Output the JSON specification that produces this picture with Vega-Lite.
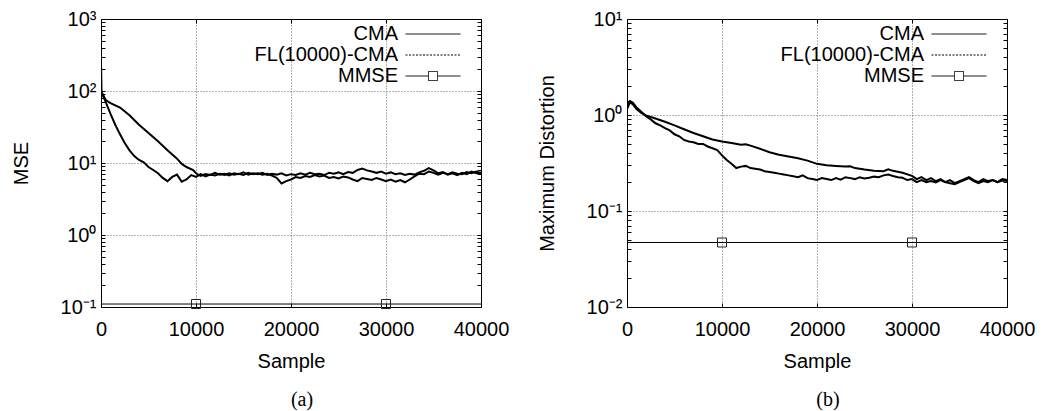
{
  "$schema": "https://vega.github.io/schema/vega-lite/v6.json",
  "background": "white",
  "padding": {"left": 10, "top": 8, "right": 5, "bottom": 5},
  "spacing": 26,
  "config": {
    "view": {"stroke": "black", "strokeWidth": 1},
    "font": "Liberation Sans",
    "axis": {
      "labelFont": "Liberation Sans", "labelFontSize": 20, "labelColor": "black",
      "titleFont": "Liberation Sans", "titleFontSize": 20, "titleFontWeight": "normal", "titleColor": "black",
      "domain": false, "tickColor": "black", "tickSize": -4, "tickWidth": 1,
      "labelFlush": false, "labelOverlap": false,
      "gridColor": "#666", "gridDash": [1, 2], "gridWidth": 1
    },
    "legend": {
      "title": null, "orient": "none", "legendX": 322, "legendY": 5,
      "symbolSize": 100, "symbolStrokeWidth": 1, "symbolStrokeColor": "black",
      "labelFont": "Liberation Sans", "labelFontSize": 20, "labelColor": "black",
      "labelAlign": "right", "labelOffset": -45, "rowPadding": 1, "labelLimit": 400
    },
    "title": {"font": "Liberation Serif", "fontSize": 20, "fontWeight": "normal", "orient": "bottom", "color": "black", "anchor": "middle", "dx": 11, "offset": 19}
  },
  "datasets": {
    "a": [
      {"s": "CMA", "x": 0, "y": 100}, {"s": "CMA", "x": 500, "y": 75}, {"s": "CMA", "x": 1000, "y": 68}, {"s": "CMA", "x": 2000, "y": 59}, {"s": "CMA", "x": 3000, "y": 46}, {"s": "CMA", "x": 4000, "y": 34}, {"s": "CMA", "x": 5000, "y": 26}, {"s": "CMA", "x": 6000, "y": 20}, {"s": "CMA", "x": 7000, "y": 15}, {"s": "CMA", "x": 8000, "y": 11.5}, {"s": "CMA", "x": 8500, "y": 9.7}, {"s": "CMA", "x": 9000, "y": 8.8}, {"s": "CMA", "x": 9700, "y": 8.0},
      {"s": "CMA", "x": 10000, "y": 7.2}, {"s": "CMA", "x": 10500, "y": 6.6}, {"s": "CMA", "x": 11000, "y": 7.0}, {"s": "CMA", "x": 11500, "y": 6.8}, {"s": "CMA", "x": 12000, "y": 7.3}, {"s": "CMA", "x": 12500, "y": 6.9}, {"s": "CMA", "x": 13000, "y": 7.1}, {"s": "CMA", "x": 13500, "y": 6.7}, {"s": "CMA", "x": 14000, "y": 7.2}, {"s": "CMA", "x": 14500, "y": 7.0}, {"s": "CMA", "x": 15000, "y": 7.4}, {"s": "CMA", "x": 15500, "y": 6.9}, {"s": "CMA", "x": 16000, "y": 7.2}, {"s": "CMA", "x": 16500, "y": 7.0}, {"s": "CMA", "x": 17000, "y": 7.3}, {"s": "CMA", "x": 17500, "y": 6.8}, {"s": "CMA", "x": 18000, "y": 7.1}, {"s": "CMA", "x": 18500, "y": 6.9}, {"s": "CMA", "x": 19000, "y": 7.2}, {"s": "CMA", "x": 19500, "y": 6.7}, {"s": "CMA", "x": 20000, "y": 7.0}, {"s": "CMA", "x": 20500, "y": 6.8}, {"s": "CMA", "x": 21000, "y": 7.2}, {"s": "CMA", "x": 21500, "y": 6.9}, {"s": "CMA", "x": 22000, "y": 7.3}, {"s": "CMA", "x": 22500, "y": 7.0}, {"s": "CMA", "x": 23000, "y": 7.1}, {"s": "CMA", "x": 23500, "y": 6.8}, {"s": "CMA", "x": 24000, "y": 7.3}, {"s": "CMA", "x": 24500, "y": 7.1}, {"s": "CMA", "x": 25000, "y": 7.4}, {"s": "CMA", "x": 25500, "y": 7.0}, {"s": "CMA", "x": 26000, "y": 7.5}, {"s": "CMA", "x": 26500, "y": 7.3}, {"s": "CMA", "x": 27000, "y": 8.0}, {"s": "CMA", "x": 27500, "y": 8.4}, {"s": "CMA", "x": 28000, "y": 7.9}, {"s": "CMA", "x": 28500, "y": 7.6}, {"s": "CMA", "x": 29000, "y": 7.3}, {"s": "CMA", "x": 29500, "y": 7.6}, {"s": "CMA", "x": 30000, "y": 7.1}, {"s": "CMA", "x": 30500, "y": 7.4}, {"s": "CMA", "x": 31000, "y": 7.0}, {"s": "CMA", "x": 31500, "y": 7.2}, {"s": "CMA", "x": 32000, "y": 6.8}, {"s": "CMA", "x": 32500, "y": 7.1}, {"s": "CMA", "x": 33000, "y": 6.9}, {"s": "CMA", "x": 33500, "y": 7.4}, {"s": "CMA", "x": 34000, "y": 7.8}, {"s": "CMA", "x": 34500, "y": 8.5}, {"s": "CMA", "x": 35000, "y": 7.9}, {"s": "CMA", "x": 35500, "y": 7.2}, {"s": "CMA", "x": 36000, "y": 7.5}, {"s": "CMA", "x": 36500, "y": 6.9}, {"s": "CMA", "x": 37000, "y": 7.2}, {"s": "CMA", "x": 37500, "y": 6.8}, {"s": "CMA", "x": 38000, "y": 7.3}, {"s": "CMA", "x": 38500, "y": 7.0}, {"s": "CMA", "x": 39000, "y": 7.6}, {"s": "CMA", "x": 39500, "y": 7.2}, {"s": "CMA", "x": 40000, "y": 7.4},
      {"s": "FL(10000)-CMA", "x": 0, "y": 250}, {"s": "FL(10000)-CMA", "x": 60, "y": 95}, {"s": "FL(10000)-CMA", "x": 500, "y": 70}, {"s": "FL(10000)-CMA", "x": 1000, "y": 48}, {"s": "FL(10000)-CMA", "x": 1500, "y": 34}, {"s": "FL(10000)-CMA", "x": 2000, "y": 25}, {"s": "FL(10000)-CMA", "x": 2500, "y": 19}, {"s": "FL(10000)-CMA", "x": 3000, "y": 15}, {"s": "FL(10000)-CMA", "x": 3500, "y": 12.5}, {"s": "FL(10000)-CMA", "x": 4000, "y": 11}, {"s": "FL(10000)-CMA", "x": 4500, "y": 10.2}, {"s": "FL(10000)-CMA", "x": 5000, "y": 8.8}, {"s": "FL(10000)-CMA", "x": 5500, "y": 8.0}, {"s": "FL(10000)-CMA", "x": 6000, "y": 7.2}, {"s": "FL(10000)-CMA", "x": 6500, "y": 6.2}, {"s": "FL(10000)-CMA", "x": 7000, "y": 5.6}, {"s": "FL(10000)-CMA", "x": 7500, "y": 6.4}, {"s": "FL(10000)-CMA", "x": 8000, "y": 6.9}, {"s": "FL(10000)-CMA", "x": 8500, "y": 5.5}, {"s": "FL(10000)-CMA", "x": 9000, "y": 5.9}, {"s": "FL(10000)-CMA", "x": 9500, "y": 6.8}, {"s": "FL(10000)-CMA", "x": 10000, "y": 6.4}, {"s": "FL(10000)-CMA", "x": 10500, "y": 7.0}, {"s": "FL(10000)-CMA", "x": 11000, "y": 6.5}, {"s": "FL(10000)-CMA", "x": 11500, "y": 6.9}, {"s": "FL(10000)-CMA", "x": 12000, "y": 6.7}, {"s": "FL(10000)-CMA", "x": 12500, "y": 7.1}, {"s": "FL(10000)-CMA", "x": 13000, "y": 6.8}, {"s": "FL(10000)-CMA", "x": 13500, "y": 7.2}, {"s": "FL(10000)-CMA", "x": 14000, "y": 6.9}, {"s": "FL(10000)-CMA", "x": 14500, "y": 7.1}, {"s": "FL(10000)-CMA", "x": 15000, "y": 6.8}, {"s": "FL(10000)-CMA", "x": 15500, "y": 7.3}, {"s": "FL(10000)-CMA", "x": 16000, "y": 7.0}, {"s": "FL(10000)-CMA", "x": 16500, "y": 7.2}, {"s": "FL(10000)-CMA", "x": 17000, "y": 6.9}, {"s": "FL(10000)-CMA", "x": 17500, "y": 7.1}, {"s": "FL(10000)-CMA", "x": 18000, "y": 6.7}, {"s": "FL(10000)-CMA", "x": 18500, "y": 6.2}, {"s": "FL(10000)-CMA", "x": 19000, "y": 5.2}, {"s": "FL(10000)-CMA", "x": 19500, "y": 5.6}, {"s": "FL(10000)-CMA", "x": 20000, "y": 5.9}, {"s": "FL(10000)-CMA", "x": 20500, "y": 6.4}, {"s": "FL(10000)-CMA", "x": 21000, "y": 6.2}, {"s": "FL(10000)-CMA", "x": 21500, "y": 6.6}, {"s": "FL(10000)-CMA", "x": 22000, "y": 6.4}, {"s": "FL(10000)-CMA", "x": 22500, "y": 6.8}, {"s": "FL(10000)-CMA", "x": 23000, "y": 6.5}, {"s": "FL(10000)-CMA", "x": 23500, "y": 6.7}, {"s": "FL(10000)-CMA", "x": 24000, "y": 6.2}, {"s": "FL(10000)-CMA", "x": 24500, "y": 6.4}, {"s": "FL(10000)-CMA", "x": 25000, "y": 6.1}, {"s": "FL(10000)-CMA", "x": 25500, "y": 6.5}, {"s": "FL(10000)-CMA", "x": 26000, "y": 6.3}, {"s": "FL(10000)-CMA", "x": 26500, "y": 5.9}, {"s": "FL(10000)-CMA", "x": 27000, "y": 5.6}, {"s": "FL(10000)-CMA", "x": 27500, "y": 6.2}, {"s": "FL(10000)-CMA", "x": 28000, "y": 6.0}, {"s": "FL(10000)-CMA", "x": 28500, "y": 5.8}, {"s": "FL(10000)-CMA", "x": 29000, "y": 6.2}, {"s": "FL(10000)-CMA", "x": 29500, "y": 5.9}, {"s": "FL(10000)-CMA", "x": 30000, "y": 5.6}, {"s": "FL(10000)-CMA", "x": 30500, "y": 5.9}, {"s": "FL(10000)-CMA", "x": 31000, "y": 5.5}, {"s": "FL(10000)-CMA", "x": 31500, "y": 5.8}, {"s": "FL(10000)-CMA", "x": 32000, "y": 5.4}, {"s": "FL(10000)-CMA", "x": 32500, "y": 5.9}, {"s": "FL(10000)-CMA", "x": 33000, "y": 6.5}, {"s": "FL(10000)-CMA", "x": 33500, "y": 7.1}, {"s": "FL(10000)-CMA", "x": 34000, "y": 7.0}, {"s": "FL(10000)-CMA", "x": 34500, "y": 7.6}, {"s": "FL(10000)-CMA", "x": 35000, "y": 7.3}, {"s": "FL(10000)-CMA", "x": 35500, "y": 6.9}, {"s": "FL(10000)-CMA", "x": 36000, "y": 7.3}, {"s": "FL(10000)-CMA", "x": 36500, "y": 7.0}, {"s": "FL(10000)-CMA", "x": 37000, "y": 7.4}, {"s": "FL(10000)-CMA", "x": 37500, "y": 7.1}, {"s": "FL(10000)-CMA", "x": 38000, "y": 7.0}, {"s": "FL(10000)-CMA", "x": 38500, "y": 7.5}, {"s": "FL(10000)-CMA", "x": 39000, "y": 7.2}, {"s": "FL(10000)-CMA", "x": 39500, "y": 7.6}, {"s": "FL(10000)-CMA", "x": 40000, "y": 7.2},
      {"s": "MMSE", "x": 0, "y": 0.11}, {"s": "MMSE", "x": 10000, "y": 0.11}, {"s": "MMSE", "x": 30000, "y": 0.11}, {"s": "MMSE", "x": 40000, "y": 0.11}
    ],
    "b": [
      {"s": "CMA", "x": 0, "y": 1.15}, {"s": "CMA", "x": 300, "y": 1.35}, {"s": "CMA", "x": 600, "y": 1.3}, {"s": "CMA", "x": 1000, "y": 1.15}, {"s": "CMA", "x": 1500, "y": 1.05}, {"s": "CMA", "x": 2000, "y": 0.99}, {"s": "CMA", "x": 3000, "y": 0.92}, {"s": "CMA", "x": 4000, "y": 0.85}, {"s": "CMA", "x": 5000, "y": 0.78}, {"s": "CMA", "x": 6000, "y": 0.71}, {"s": "CMA", "x": 7000, "y": 0.65}, {"s": "CMA", "x": 8000, "y": 0.6}, {"s": "CMA", "x": 9000, "y": 0.555}, {"s": "CMA", "x": 10000, "y": 0.53}, {"s": "CMA", "x": 11000, "y": 0.51}, {"s": "CMA", "x": 12000, "y": 0.49}, {"s": "CMA", "x": 12500, "y": 0.495}, {"s": "CMA", "x": 13000, "y": 0.48}, {"s": "CMA", "x": 14000, "y": 0.445}, {"s": "CMA", "x": 15000, "y": 0.41}, {"s": "CMA", "x": 16000, "y": 0.385}, {"s": "CMA", "x": 17000, "y": 0.37}, {"s": "CMA", "x": 18000, "y": 0.355}, {"s": "CMA", "x": 19000, "y": 0.335}, {"s": "CMA", "x": 20000, "y": 0.31}, {"s": "CMA", "x": 21000, "y": 0.3}, {"s": "CMA", "x": 22000, "y": 0.295}, {"s": "CMA", "x": 23000, "y": 0.29}, {"s": "CMA", "x": 23500, "y": 0.292}, {"s": "CMA", "x": 24000, "y": 0.28}, {"s": "CMA", "x": 25000, "y": 0.27}, {"s": "CMA", "x": 26000, "y": 0.262}, {"s": "CMA", "x": 27000, "y": 0.26}, {"s": "CMA", "x": 27500, "y": 0.272}, {"s": "CMA", "x": 28000, "y": 0.262}, {"s": "CMA", "x": 29000, "y": 0.25}, {"s": "CMA", "x": 30000, "y": 0.232}, {"s": "CMA", "x": 30500, "y": 0.215}, {"s": "CMA", "x": 31000, "y": 0.225}, {"s": "CMA", "x": 31500, "y": 0.21}, {"s": "CMA", "x": 32000, "y": 0.22}, {"s": "CMA", "x": 32500, "y": 0.205}, {"s": "CMA", "x": 33000, "y": 0.215}, {"s": "CMA", "x": 33500, "y": 0.2}, {"s": "CMA", "x": 34000, "y": 0.21}, {"s": "CMA", "x": 34500, "y": 0.195}, {"s": "CMA", "x": 35000, "y": 0.205}, {"s": "CMA", "x": 35500, "y": 0.215}, {"s": "CMA", "x": 36000, "y": 0.225}, {"s": "CMA", "x": 36500, "y": 0.21}, {"s": "CMA", "x": 37000, "y": 0.2}, {"s": "CMA", "x": 37500, "y": 0.215}, {"s": "CMA", "x": 38000, "y": 0.205}, {"s": "CMA", "x": 38500, "y": 0.21}, {"s": "CMA", "x": 39000, "y": 0.2}, {"s": "CMA", "x": 39500, "y": 0.215}, {"s": "CMA", "x": 40000, "y": 0.21},
      {"s": "FL(10000)-CMA", "x": 0, "y": 1.3}, {"s": "FL(10000)-CMA", "x": 300, "y": 1.4}, {"s": "FL(10000)-CMA", "x": 600, "y": 1.35}, {"s": "FL(10000)-CMA", "x": 1000, "y": 1.2}, {"s": "FL(10000)-CMA", "x": 1500, "y": 1.08}, {"s": "FL(10000)-CMA", "x": 2000, "y": 0.97}, {"s": "FL(10000)-CMA", "x": 2500, "y": 0.9}, {"s": "FL(10000)-CMA", "x": 3000, "y": 0.82}, {"s": "FL(10000)-CMA", "x": 3500, "y": 0.78}, {"s": "FL(10000)-CMA", "x": 4000, "y": 0.73}, {"s": "FL(10000)-CMA", "x": 4500, "y": 0.69}, {"s": "FL(10000)-CMA", "x": 5000, "y": 0.63}, {"s": "FL(10000)-CMA", "x": 5500, "y": 0.6}, {"s": "FL(10000)-CMA", "x": 6000, "y": 0.55}, {"s": "FL(10000)-CMA", "x": 6500, "y": 0.53}, {"s": "FL(10000)-CMA", "x": 7000, "y": 0.52}, {"s": "FL(10000)-CMA", "x": 7500, "y": 0.5}, {"s": "FL(10000)-CMA", "x": 8000, "y": 0.5}, {"s": "FL(10000)-CMA", "x": 8500, "y": 0.47}, {"s": "FL(10000)-CMA", "x": 9000, "y": 0.45}, {"s": "FL(10000)-CMA", "x": 9500, "y": 0.43}, {"s": "FL(10000)-CMA", "x": 10000, "y": 0.38}, {"s": "FL(10000)-CMA", "x": 10500, "y": 0.34}, {"s": "FL(10000)-CMA", "x": 11000, "y": 0.31}, {"s": "FL(10000)-CMA", "x": 11500, "y": 0.28}, {"s": "FL(10000)-CMA", "x": 12000, "y": 0.29}, {"s": "FL(10000)-CMA", "x": 12500, "y": 0.295}, {"s": "FL(10000)-CMA", "x": 13000, "y": 0.28}, {"s": "FL(10000)-CMA", "x": 13500, "y": 0.275}, {"s": "FL(10000)-CMA", "x": 14000, "y": 0.27}, {"s": "FL(10000)-CMA", "x": 14500, "y": 0.26}, {"s": "FL(10000)-CMA", "x": 15000, "y": 0.255}, {"s": "FL(10000)-CMA", "x": 15500, "y": 0.25}, {"s": "FL(10000)-CMA", "x": 16000, "y": 0.245}, {"s": "FL(10000)-CMA", "x": 16500, "y": 0.24}, {"s": "FL(10000)-CMA", "x": 17000, "y": 0.235}, {"s": "FL(10000)-CMA", "x": 17500, "y": 0.23}, {"s": "FL(10000)-CMA", "x": 18000, "y": 0.225}, {"s": "FL(10000)-CMA", "x": 18500, "y": 0.235}, {"s": "FL(10000)-CMA", "x": 19000, "y": 0.22}, {"s": "FL(10000)-CMA", "x": 19500, "y": 0.215}, {"s": "FL(10000)-CMA", "x": 20000, "y": 0.21}, {"s": "FL(10000)-CMA", "x": 20500, "y": 0.22}, {"s": "FL(10000)-CMA", "x": 21000, "y": 0.215}, {"s": "FL(10000)-CMA", "x": 21500, "y": 0.21}, {"s": "FL(10000)-CMA", "x": 22000, "y": 0.22}, {"s": "FL(10000)-CMA", "x": 22500, "y": 0.212}, {"s": "FL(10000)-CMA", "x": 23000, "y": 0.225}, {"s": "FL(10000)-CMA", "x": 23500, "y": 0.22}, {"s": "FL(10000)-CMA", "x": 24000, "y": 0.215}, {"s": "FL(10000)-CMA", "x": 24500, "y": 0.225}, {"s": "FL(10000)-CMA", "x": 25000, "y": 0.218}, {"s": "FL(10000)-CMA", "x": 25500, "y": 0.222}, {"s": "FL(10000)-CMA", "x": 26000, "y": 0.228}, {"s": "FL(10000)-CMA", "x": 26500, "y": 0.225}, {"s": "FL(10000)-CMA", "x": 27000, "y": 0.235}, {"s": "FL(10000)-CMA", "x": 27500, "y": 0.24}, {"s": "FL(10000)-CMA", "x": 28000, "y": 0.232}, {"s": "FL(10000)-CMA", "x": 28500, "y": 0.225}, {"s": "FL(10000)-CMA", "x": 29000, "y": 0.222}, {"s": "FL(10000)-CMA", "x": 29500, "y": 0.21}, {"s": "FL(10000)-CMA", "x": 30000, "y": 0.215}, {"s": "FL(10000)-CMA", "x": 30500, "y": 0.2}, {"s": "FL(10000)-CMA", "x": 31000, "y": 0.21}, {"s": "FL(10000)-CMA", "x": 31500, "y": 0.2}, {"s": "FL(10000)-CMA", "x": 32000, "y": 0.205}, {"s": "FL(10000)-CMA", "x": 32500, "y": 0.198}, {"s": "FL(10000)-CMA", "x": 33000, "y": 0.21}, {"s": "FL(10000)-CMA", "x": 33500, "y": 0.2}, {"s": "FL(10000)-CMA", "x": 34000, "y": 0.195}, {"s": "FL(10000)-CMA", "x": 34500, "y": 0.19}, {"s": "FL(10000)-CMA", "x": 35000, "y": 0.2}, {"s": "FL(10000)-CMA", "x": 35500, "y": 0.21}, {"s": "FL(10000)-CMA", "x": 36000, "y": 0.22}, {"s": "FL(10000)-CMA", "x": 36500, "y": 0.205}, {"s": "FL(10000)-CMA", "x": 37000, "y": 0.195}, {"s": "FL(10000)-CMA", "x": 37500, "y": 0.205}, {"s": "FL(10000)-CMA", "x": 38000, "y": 0.2}, {"s": "FL(10000)-CMA", "x": 38500, "y": 0.21}, {"s": "FL(10000)-CMA", "x": 39000, "y": 0.2}, {"s": "FL(10000)-CMA", "x": 39500, "y": 0.208}, {"s": "FL(10000)-CMA", "x": 40000, "y": 0.205},
      {"s": "MMSE", "x": 0, "y": 0.047}, {"s": "MMSE", "x": 10000, "y": 0.047}, {"s": "MMSE", "x": 30000, "y": 0.047}, {"s": "MMSE", "x": 40000, "y": 0.047}
    ]
  },
  "resolve": {"scale": {"color": "independent"}, "legend": {"color": "independent"}},
  "hconcat": [
    {
      "width": 380, "height": 288,
      "title": {"text": "(a)"},
      "data": {"name": "a"},
      "resolve": {"axis": {"x": "independent", "y": "independent"}},
      "layer": [
        {
          "mark": {"type": "line", "strokeWidth": 2, "clip": true},
          "transform": [{"filter": "datum.s !== 'MMSE'"}],
          "encoding": {
            "x": {"field": "x", "type": "quantitative", "scale": {"domain": [0, 40000], "nice": false},
              "axis": {"orient": "bottom", "title": "Sample", "values": [0, 10000, 20000, 30000, 40000], "format": "d", "labelPadding": 16, "titlePadding": 12, "grid": true,
                "gridOpacity": {"condition": {"test": "datum.value > 0 && datum.value < 40000", "value": 1}, "value": 0}}},
            "y": {"field": "y", "type": "quantitative", "scale": {"type": "log", "domain": [0.1, 1000], "nice": false},
              "axis": {"orient": "left", "title": "MSE", "titlePadding": 29, "labelPadding": 9, "grid": true,
                "values": [0.1, 0.2, 0.3, 0.4, 0.5, 0.6, 0.7, 0.8, 0.9, 1, 2, 3, 4, 5, 6, 7, 8, 9, 10, 20, 30, 40, 50, 60, 70, 80, 90, 100, 200, 300, 400, 500, 600, 700, 800, 900, 1000],
                "labelExpr": "datum.value == 1000 ? '10³' : datum.value == 100 ? '10²' : datum.value == 10 ? '10¹' : datum.value == 1 ? '10⁰' : datum.value == 0.1 ? '10⁻¹' : ''",
                "gridOpacity": {"condition": {"test": "indexof([1, 10, 100], datum.value) >= 0", "value": 1}, "value": 0}}},
            "color": {"field": "s", "type": "nominal", "scale": {"domain": ["CMA", "FL(10000)-CMA", "MMSE"], "range": ["black", "black", "black"]},
              "legend": {"encode": {"symbols": {"update": {
                "shape": {"signal": "datum.value === 'MMSE' ? 'M-5.5,0H-0.9M0.9,0H5.5M-0.9,-0.9H0.9V0.9H-0.9Z' : 'M-5.5,0H5.5'"},
                "strokeDash": {"signal": "datum.value === 'FL(10000)-CMA' ? [2, 1.5] : [1, 0]"},
                "fill": {"value": "transparent"}, "stroke": {"value": "black"}, "strokeWidth": {"value": 1}}}}}}
          }
        },
        {
          "mark": {"type": "line", "strokeWidth": 1, "clip": true},
          "transform": [{"filter": "datum.s === 'MMSE'"}],
          "encoding": {
            "x": {"field": "x", "type": "quantitative", "axis": {"orient": "top", "labels": false, "title": null, "grid": false, "values": [0, 10000, 20000, 30000, 40000]}},
            "y": {"field": "y", "type": "quantitative",
              "axis": {"orient": "right", "labels": false, "title": null, "grid": false,
                "values": [0.1, 0.2, 0.3, 0.4, 0.5, 0.6, 0.7, 0.8, 0.9, 1, 2, 3, 4, 5, 6, 7, 8, 9, 10, 20, 30, 40, 50, 60, 70, 80, 90, 100, 200, 300, 400, 500, 600, 700, 800, 900, 1000]}},
            "color": {"field": "s", "type": "nominal"}
          }
        },
        {
          "mark": {"type": "point", "shape": "square", "size": 81, "filled": false, "stroke": "#222", "strokeWidth": 1, "opacity": 1},
          "transform": [{"filter": "datum.s === 'MMSE' && (datum.x === 10000 || datum.x === 30000)"}],
          "encoding": {
            "x": {"field": "x", "type": "quantitative", "axis": null},
            "y": {"field": "y", "type": "quantitative", "axis": null}
          }
        }
      ]
    },
    {
      "width": 380, "height": 288,
      "title": {"text": "(b)"},
      "data": {"name": "b"},
      "resolve": {"axis": {"x": "independent", "y": "independent"}},
      "layer": [
        {
          "mark": {"type": "line", "strokeWidth": 2, "clip": true},
          "transform": [{"filter": "datum.s !== 'MMSE'"}],
          "encoding": {
            "x": {"field": "x", "type": "quantitative", "scale": {"domain": [0, 40000], "nice": false},
              "axis": {"orient": "bottom", "title": "Sample", "values": [0, 10000, 20000, 30000, 40000], "format": "d", "labelPadding": 16, "titlePadding": 12, "grid": true,
                "gridOpacity": {"condition": {"test": "datum.value > 0 && datum.value < 40000", "value": 1}, "value": 0}}},
            "y": {"field": "y", "type": "quantitative", "scale": {"type": "log", "domain": [0.01, 10], "nice": false},
              "axis": {"orient": "left", "title": "Maximum Distortion", "titlePadding": 29, "labelPadding": 9, "grid": true,
                "values": [0.01, 0.02, 0.03, 0.04, 0.05, 0.06, 0.07, 0.08, 0.09, 0.1, 0.2, 0.3, 0.4, 0.5, 0.6, 0.7, 0.8, 0.9, 1, 2, 3, 4, 5, 6, 7, 8, 9, 10],
                "labelExpr": "datum.value == 10 ? '10¹' : datum.value == 1 ? '10⁰' : datum.value == 0.1 ? '10⁻¹' : datum.value == 0.01 ? '10⁻²' : ''",
                "gridOpacity": {"condition": {"test": "indexof([0.1, 1], datum.value) >= 0", "value": 1}, "value": 0}}},
            "color": {"field": "s", "type": "nominal", "scale": {"domain": ["CMA", "FL(10000)-CMA", "MMSE"], "range": ["black", "black", "black"]},
              "legend": {"encode": {"symbols": {"update": {
                "shape": {"signal": "datum.value === 'MMSE' ? 'M-5.5,0H-0.9M0.9,0H5.5M-0.9,-0.9H0.9V0.9H-0.9Z' : 'M-5.5,0H5.5'"},
                "strokeDash": {"signal": "datum.value === 'FL(10000)-CMA' ? [2, 1.5] : [1, 0]"},
                "fill": {"value": "transparent"}, "stroke": {"value": "black"}, "strokeWidth": {"value": 1}}}}}}
          }
        },
        {
          "mark": {"type": "line", "strokeWidth": 1, "clip": true},
          "transform": [{"filter": "datum.s === 'MMSE'"}],
          "encoding": {
            "x": {"field": "x", "type": "quantitative", "axis": {"orient": "top", "labels": false, "title": null, "grid": false, "values": [0, 10000, 20000, 30000, 40000]}},
            "y": {"field": "y", "type": "quantitative",
              "axis": {"orient": "right", "labels": false, "title": null, "grid": false,
                "values": [0.01, 0.02, 0.03, 0.04, 0.05, 0.06, 0.07, 0.08, 0.09, 0.1, 0.2, 0.3, 0.4, 0.5, 0.6, 0.7, 0.8, 0.9, 1, 2, 3, 4, 5, 6, 7, 8, 9, 10]}},
            "color": {"field": "s", "type": "nominal"}
          }
        },
        {
          "mark": {"type": "point", "shape": "square", "size": 81, "filled": false, "stroke": "#222", "strokeWidth": 1, "opacity": 1},
          "transform": [{"filter": "datum.s === 'MMSE' && (datum.x === 10000 || datum.x === 30000)"}],
          "encoding": {
            "x": {"field": "x", "type": "quantitative", "axis": null},
            "y": {"field": "y", "type": "quantitative", "axis": null}
          }
        }
      ]
    }
  ]
}
